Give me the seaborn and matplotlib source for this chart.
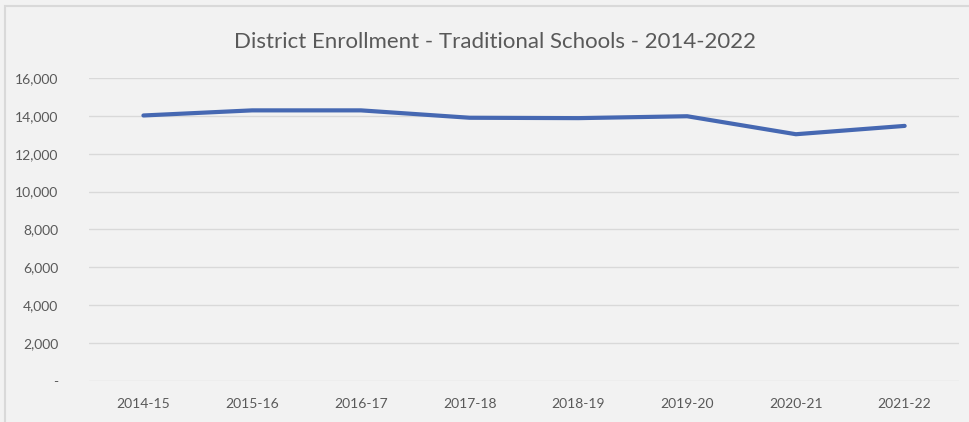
import matplotlib.pyplot as plt
import matplotlib.ticker as mticker
import matplotlib.patches as mpatches
import pandas as pd
import seaborn as sns

years = ['2014-15', '2015-16', '2016-17', '2017-18', '2018-19', '2019-20', '2020-21', '2021-22']
enrollment = [14020, 14290, 14290, 13900, 13880, 13980, 13030, 13470]
title = 'District Enrollment - Traditional Schools - 2014-2022'

df = pd.DataFrame({'year': years, 'enrollment': enrollment})

sns.set_theme(style='white')
plt.rcParams['font.family'] = ['Lato', 'DejaVu Sans']

fig = plt.figure(figsize=(9.7, 4.22), dpi=100, facecolor='#f2f2f2')
ax = fig.add_axes([0.0918, 0.0972, 0.8969, 0.718])
ax.set_facecolor('#f2f2f2')

# outer chart border like the spreadsheet
fig.patches.append(mpatches.Rectangle((5 / 970, -0.05), 1.0, 1.05 - 6 / 422,
                                      transform=fig.transFigure, fill=False,
                                      edgecolor='#d9d9d9', linewidth=1.5))

sns.lineplot(data=df, x='year', y='enrollment', ax=ax, color='#4668B2',
             linewidth=3, sort=False)

ax.set_ylim(0, 16000)
ax.set_xlim(-0.5, len(years) - 0.5)
ax.yaxis.set_major_locator(mticker.MultipleLocator(2000))
ax.yaxis.set_major_formatter(mticker.FuncFormatter(
    lambda v, p: '-' if v == 0 else f'{int(v):,}'))
ax.grid(axis='y', color='#d9d9d9', linewidth=1)
ax.set_axisbelow(True)
for s in ax.spines.values():
    s.set_visible(False)
ax.tick_params(axis='both', length=0, labelsize=10, colors='#595959')
ax.tick_params(axis='y', pad=22)
ax.tick_params(axis='x', pad=12)
ax.set_xlabel('')
ax.set_ylabel('')

fig.text(0.5105, 0.90, title, ha='center', va='center', fontsize=16,
         color='#595959')

fig.savefig('out.png', dpi=100, facecolor=fig.get_facecolor())
